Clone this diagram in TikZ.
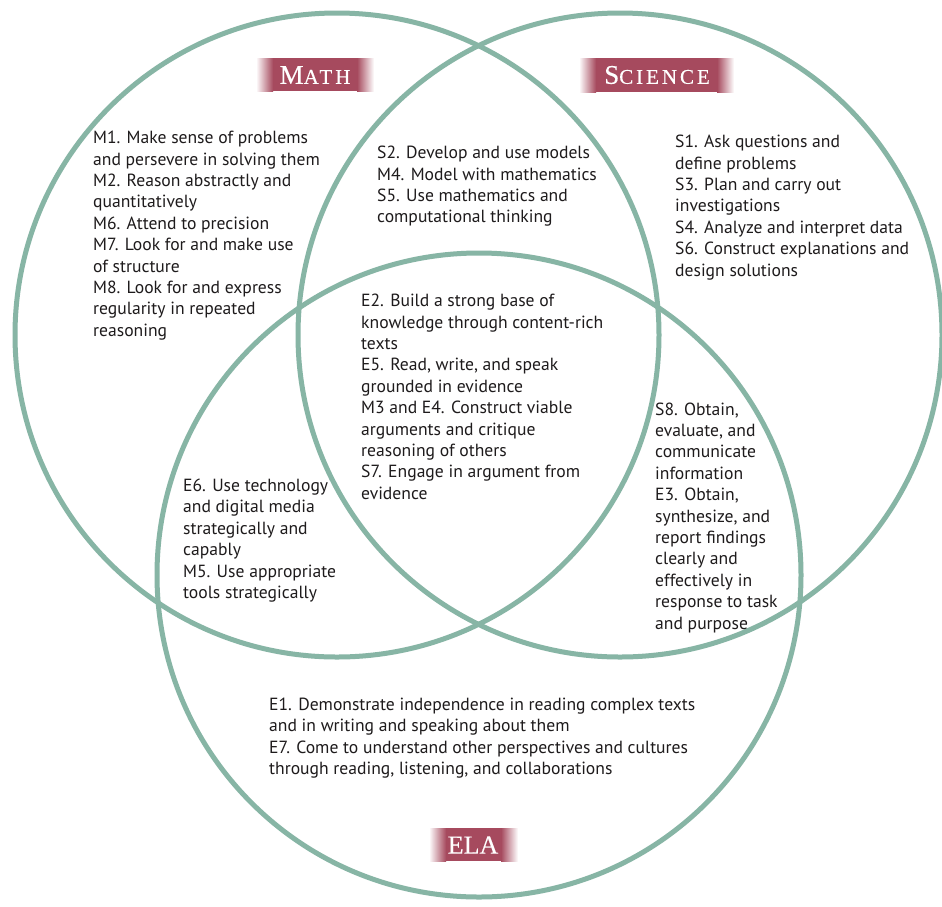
\documentclass[tikz,border=0pt]{standalone}
\usepackage{fontspec}
\setmainfont{PT Sans}
\newfontfamily\lblfont[FakeBold=0.4]{Liberation Serif}
\newfontfamily\lblfontsp[LetterSpace=14,FakeBold=0.4]{Liberation Serif}
\definecolor{ringc}{RGB}{135,181,165}
\definecolor{bannerc}{RGB}{166,74,94}
\definecolor{txtc}{RGB}{30,27,28}
\newcommand\lblbig[1]{{\fontsize{27}{27}\selectfont #1}}
\newcommand\lblsmall[1]{{\fontsize{21}{21}\selectfont #1}}
\begin{document}
\begin{tikzpicture}[x=1pt,y=-1pt,
  ring/.style={circle, draw=ringc, line width=5pt, minimum size=644pt, inner sep=0pt},
  txt/.style={anchor=north west, align=left, inner sep=0pt, text=txtc, font=\fontsize{17.6}{21.4}\selectfont},
  lbl/.style={text=white, inner sep=0pt},
  fadein/.style={left color=white, right color=bannerc},
  fadeout/.style={left color=bannerc, right color=white},
  bannerfill/.style={fill=bannerc}]
\useasboundingbox (0,0) rectangle (942,906);
\fill[white] (0,0) rectangle (942,906);
% circles
\node[ring] (mathc) at (337,335) {};
\node[ring] (scic) at (620,335) {};
\node[ring] (elac) at (479,575) {};
% banners
\path[fadein] (256,58) rectangle (273,91);
\path[bannerfill] (272.5,58) rectangle (357.5,91);
\path[fadeout] (357,58) rectangle (374,91);
\node[lbl, font=\lblfontsp] (mathlbl) at (315,75) {\lblbig{M}\lblsmall{ATH}};
\path[fadein] (579,58) rectangle (596,92);
\path[bannerfill] (595.5,58) rectangle (717.5,92);
\path[fadeout] (717,58) rectangle (734,92);
\node[lbl, font=\lblfontsp] (scilbl) at (657,75) {\lblbig{S}\lblsmall{CIENCE}};
\path[fadein] (429,828) rectangle (446,861);
\path[bannerfill] (445.5,828) rectangle (501.5,861);
\path[fadeout] (501,828) rectangle (518,861);
\node[lbl, font=\lblfont] (elalbl) at (473,845) {{\fontsize{26}{26}\selectfont ELA}};
% texts
\node[txt] (mtxt) at (93,131) {M1. Make sense of problems\\and persevere in solving them\\M2. Reason abstractly and\\quantitatively\\M6. Attend to precision\\M7. Look for and make use\\of structure\\M8. Look for and express\\regularity in repeated\\reasoning};
\node[txt] (mstxt) at (377,146) {S2. Develop and use models\\M4. Model with mathematics\\S5. Use mathematics and\\computational thinking};
\node[txt] (stxt) at (675,135) {S1. Ask questions and\\define problems\\S3. Plan and carry out\\investigations\\S4. Analyze and interpret data\\S6. Construct explanations and\\design solutions};
\node[txt] (ctxt) at (361,294) {E2. Build a strong base of\\knowledge through content-rich\\texts\\E5. Read, write, and speak\\grounded in evidence\\M3 and E4. Construct viable\\arguments and critique\\reasoning of others\\S7. Engage in argument from\\evidence};
\node[txt] (setxt) at (655,402.3) {S8. Obtain,\\evaluate, and\\communicate\\information\\E3. Obtain,\\synthesize, and\\report findings\\clearly and\\effectively in\\response to task\\and purpose};
\node[txt] (metxt) at (183,478.8) {E6. Use technology\\and digital media\\strategically and\\capably\\M5. Use appropriate\\tools strategically};
\node[txt] (etxt) at (269,697.8) {E1. Demonstrate independence in reading complex texts\\and in writing and speaking about them\\E7. Come to understand other perspectives and cultures\\through reading, listening, and collaborations};
\end{tikzpicture}
\end{document}
